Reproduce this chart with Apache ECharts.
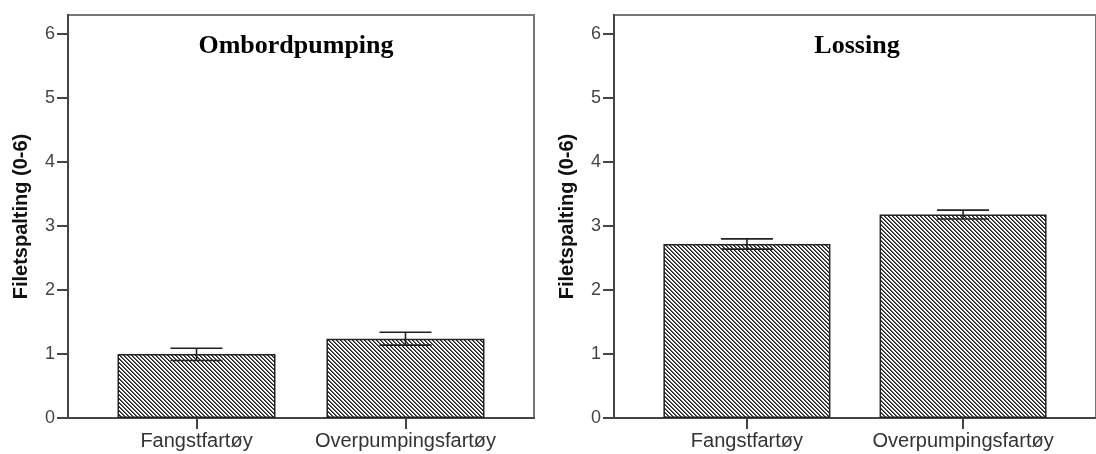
<!DOCTYPE html>
<html>
<head>
<meta charset="utf-8">
<script src="https://cdn.jsdelivr.net/npm/echarts@6/dist/echarts.min.js"></script>
<style>
  html, body { margin: 0; padding: 0; background: #fff; }
  #main { width: 1096px; height: 454px; }
</style>
</head>
<body>
<div id="main"></div>
<script>
var categories = ['Fangstfartøy', 'Overpumpingsfartøy'];
var yTicks = [0, 1, 2, 3, 4, 5, 6];

// Ombordpumping: mean with error bar low/high
var ombordMean = [1.0, 1.24];
var ombordLow = [0.9, 1.14];
var ombordHigh = [1.09, 1.34];

// Lossing
var lossingMean = [2.72, 3.18];
var lossingLow = [2.64, 3.11];
var lossingHigh = [2.8, 3.25];

// hatch pattern  \\\\  (pixel drawn so it stays crisp)
var tile = document.createElement('canvas');
tile.width = 4; tile.height = 4;
var ctx = tile.getContext('2d');
ctx.fillStyle = '#fff';
ctx.fillRect(0, 0, 4, 4);
for (var i = 0; i < 4; i++) {
    ctx.fillStyle = '#1a1a1a';
    ctx.fillRect(i, i, 1, 1);
    ctx.fillStyle = '#666';
    ctx.fillRect((i + 1) % 4, i, 1, 1);
}
var hatch = { image: tile, repeat: 'repeat' };

function pairs(vals) {
    return vals.map(function (v, i) { return [i, v]; });
}
function errData(low, high) {
    return low.map(function (l, i) { return [i, l, high[i]]; });
}

function errRender(params, api) {
    var x = api.value(0);
    var lo = api.coord([x, api.value(1)]);
    var hi = api.coord([x, api.value(2)]);
    var hw = 26;
    var style = { stroke: '#222', lineWidth: 1.6 };
    return {
        type: 'group',
        children: [
            { type: 'line', shape: { x1: lo[0], y1: lo[1], x2: hi[0], y2: hi[1] }, style: style },
            { type: 'line', shape: { x1: lo[0] - hw, y1: lo[1], x2: lo[0] + hw, y2: lo[1] }, style: style },
            { type: 'line', shape: { x1: hi[0] - hw, y1: hi[1], x2: hi[0] + hw, y2: hi[1] }, style: style }
        ]
    };
}

function xAxisFor(idx) {
    return {
        type: 'value', gridIndex: idx, min: -0.615, max: 1.615,
        axisLine: { onZero: false, lineStyle: { color: '#444', width: 2 } },
        axisTick: { customValues: [0, 1], length: 11, lineStyle: { color: '#444', width: 2 } },
        axisLabel: {
            customValues: [0, 1], margin: 13,
            fontFamily: 'Liberation Sans, Arial', fontSize: 20, color: '#333',
            formatter: function (v) { return categories[Math.round(v)]; }
        },
        splitLine: { show: false }
    };
}
function yAxisFor(idx) {
    return {
        type: 'value', gridIndex: idx, min: 0, max: 6.3,
        name: 'Filetspalting (0-6)', nameLocation: 'middle', nameGap: 37,
        nameTextStyle: { fontFamily: 'Liberation Sans, Arial', fontWeight: 'bold', fontSize: 20, color: '#111' },
        axisLine: { show: true, onZero: false, lineStyle: { color: '#444', width: 2 } },
        axisTick: { show: true, customValues: yTicks, length: 11, lineStyle: { color: '#444', width: 2 } },
        axisLabel: { customValues: yTicks, margin: 13, fontSize: 18,
            fontFamily: 'Liberation Sans, Arial', color: '#444' },
        splitLine: { show: false }
    };
}

var dom = document.getElementById('main');
var myChart = echarts.init(dom);
var titleFont = { fontFamily: 'Liberation Serif, Times New Roman', fontWeight: 'bold', fontSize: 26, color: '#000' };
var option = {
    animation: false,
    backgroundColor: '#fff',
    title: [
        { text: 'Ombordpumping', left: 291, top: 28, textAlign: 'center', textStyle: titleFont },
        { text: 'Lossing', left: 852, top: 28, textAlign: 'center', textStyle: titleFont }
    ],
    grid: [
        { left: 68, top: 15, width: 466, height: 403, show: true, borderColor: '#777', borderWidth: 2 },
        { left: 614, top: 15, width: 495, height: 403, show: true, borderColor: '#777', borderWidth: 2 }
    ],
    xAxis: [xAxisFor(0), xAxisFor(1)],
    yAxis: [yAxisFor(0), yAxisFor(1)],
    series: [
        {
            type: 'bar', xAxisIndex: 0, yAxisIndex: 0, barWidth: 158,
            data: pairs(ombordMean),
            itemStyle: { color: hatch, borderColor: '#222', borderWidth: 1.5 }
        },
        {
            type: 'custom', xAxisIndex: 0, yAxisIndex: 0,
            data: errData(ombordLow, ombordHigh), renderItem: errRender, z: 5
        },
        {
            type: 'bar', xAxisIndex: 1, yAxisIndex: 1, barWidth: 167,
            data: pairs(lossingMean),
            itemStyle: { color: hatch, borderColor: '#222', borderWidth: 1.5 }
        },
        {
            type: 'custom', xAxisIndex: 1, yAxisIndex: 1,
            data: errData(lossingLow, lossingHigh), renderItem: errRender, z: 5
        }
    ]
};
myChart.setOption(option, true);
</script>
</body>
</html>
